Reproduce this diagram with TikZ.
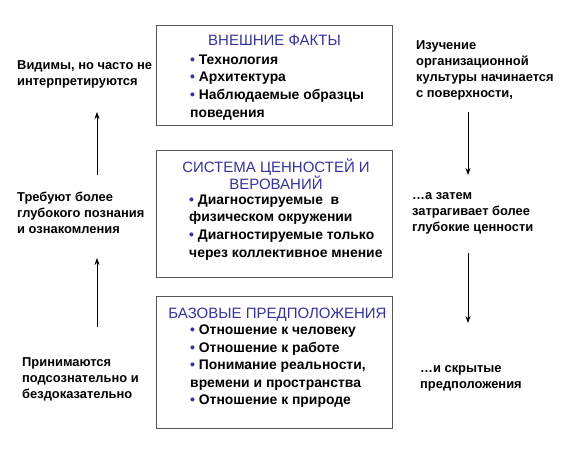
\documentclass[tikz,border=0pt]{standalone}
\usepackage{fontspec}
\setmainfont{Liberation Sans}
\usetikzlibrary{positioning,arrows.meta}
\definecolor{ttlblue}{RGB}{51,51,153}
\definecolor{framegray}{RGB}{85,85,85}
\newcommand{\bul}{{\color{ttlblue}\textbullet}\ }

\begin{document}
\begin{tikzpicture}[x=1pt, y=-1pt,
  layer/.style = {draw = framegray, line width = 1pt, minimum width = 236pt, inner sep = 0pt},
  ttl/.style = {text = ttlblue, font = \fontsize{15}{15}\selectfont, align = center, inner sep = 0pt},
  items/.style = {font = \bfseries\fontsize{13.9}{17.6}\selectfont, align = left, anchor = north west, inner sep = 0pt},
  side/.style = {font = \bfseries\fontsize{12.9}{16}\selectfont, align = left, anchor = north west, inner sep = 0pt},
  way/.style = {line width = 0.8pt, -{Stealth[length = 7pt, width = 5pt]}}]
\useasboundingbox (0,0) rectangle (576,469);

%layers
\node[layer, minimum height = 100pt] (facts) at (274,75) {};
\node[layer, minimum height = 127pt] (values) at (274.5,213.5) {};
\node[layer, minimum height = 132pt] (basic) at (274.5,362) {};

\node[ttl, anchor = base] (factsT) at (274.5,45.5) {ВНЕШНИЕ ФАКТЫ};
\node[items] (factsL) at (190,54.5) {\bul Технология\\ \bul Архитектура\\ \bul Наблюдаемые образцы\\ поведения};

\node[ttl, anchor = north] (valuesT) at (276,158.5) {СИСТЕМА ЦЕННОСТЕЙ И\\ ВЕРОВАНИЙ};
\node[items] (valuesL) at (189,194.5) {\bul Диагностируемые \ в\\ физическом окружении\\ \bul Диагностируемые только\\ через коллективное мнение};

\node[ttl, anchor = base] (basicT) at (277.5,318.5) {БАЗОВЫЕ ПРЕДПОЛОЖЕНИЯ};
\node[items] (basicL) at (190,324.5) {\bul Отношение к человеку\\ \bul Отношение к работе\\ \bul Понимание реальности,\\ времени и пространства\\ \bul Отношение к природе};

%left side
\node[side] (seen) at (17,60) {Видимы, но часто не\\ интерпретируются};
\node[side] (deep) at (17,192) {Требуют более\\ глубокого познания\\ и ознакомления};
\node[side] (hidden) at (22,357) {Принимаются\\ подсознательно и\\ бездоказательно};

%right side
\node[side] (study) at (416,40) {Изучение\\ организационной\\ культуры начинается\\ с поверхности,};
\node[side] (then) at (412,192) {…а затем\\ затрагивает более\\ глубокие ценности};
\node[side] (last) at (420,365) {…и скрытые\\ предположения};

%arrows
\coordinate (lA) at (97,175);  \coordinate (lB) at (97,112);
\coordinate (lC) at (97,327);  \coordinate (lD) at (97,258);
\coordinate (rA) at (468,112); \coordinate (rB) at (468,175);
\coordinate (rC) at (468,253); \coordinate (rD) at (468,323);
\foreach \a/\b in {lA/lB, lC/lD, rA/rB, rC/rD}
  \draw[way] (\a) -- (\b);
\end{tikzpicture}
\end{document}
